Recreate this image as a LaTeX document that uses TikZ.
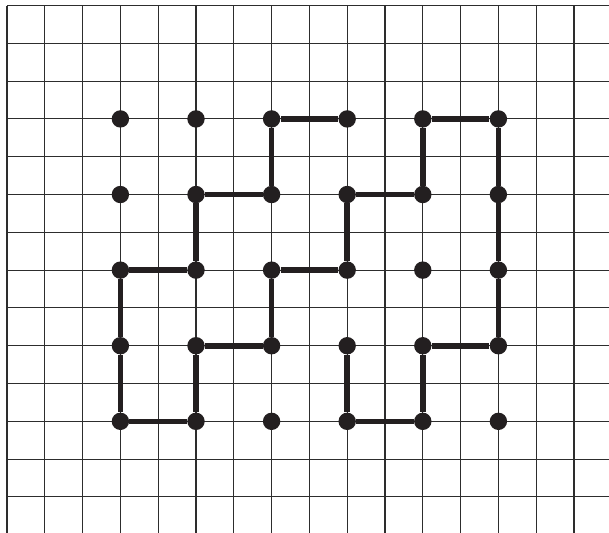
\documentclass[tikz,border=0pt]{standalone}
\usepackage{tikz}
\usetikzlibrary{calc}
\usepackage{xcolor}
\definecolor{inkblack}{RGB}{35,31,32}
\definecolor{gridgrey}{RGB}{45,45,45}

\tikzset{
  gridline/.style={gridgrey,line width=0.85pt},
  walkline/.style={inkblack,line width=4.2pt},
  lattdot/.style={circle,fill=inkblack,inner sep=0pt,minimum size=0.46cm}
}

\begin{document}
\begin{tikzpicture}
    % Page frame
    \useasboundingbox (-0.185,0.146) rectangle (15.926,-13.929);
    \clip (-0.185,0.146) rectangle (15.926,-13.929);

    % Square grid
    \draw[gridline] (0,-14) grid (16,0);

    % Lattice points
    \foreach \c in {0,...,5}{
      \foreach \r in {0,...,4}{
        \node[lattdot] (p\c\r) at ({3+2*\c},{-3-2*\r}) {};
      }
    }

    % Self-avoiding walk
    \draw[walkline]
      (p30) -- (p20) -- (p21) -- (p11) -- (p12) -- (p02) -- (p03)
      -- (p04) -- (p14) -- (p13) -- (p23) -- (p22) -- (p32) -- (p31)
      -- (p41) -- (p40) -- (p50) -- (p51) -- (p52) -- (p53) -- (p43)
      -- (p44) -- (p34) -- (p33);
  \end{tikzpicture}
\end{document}
